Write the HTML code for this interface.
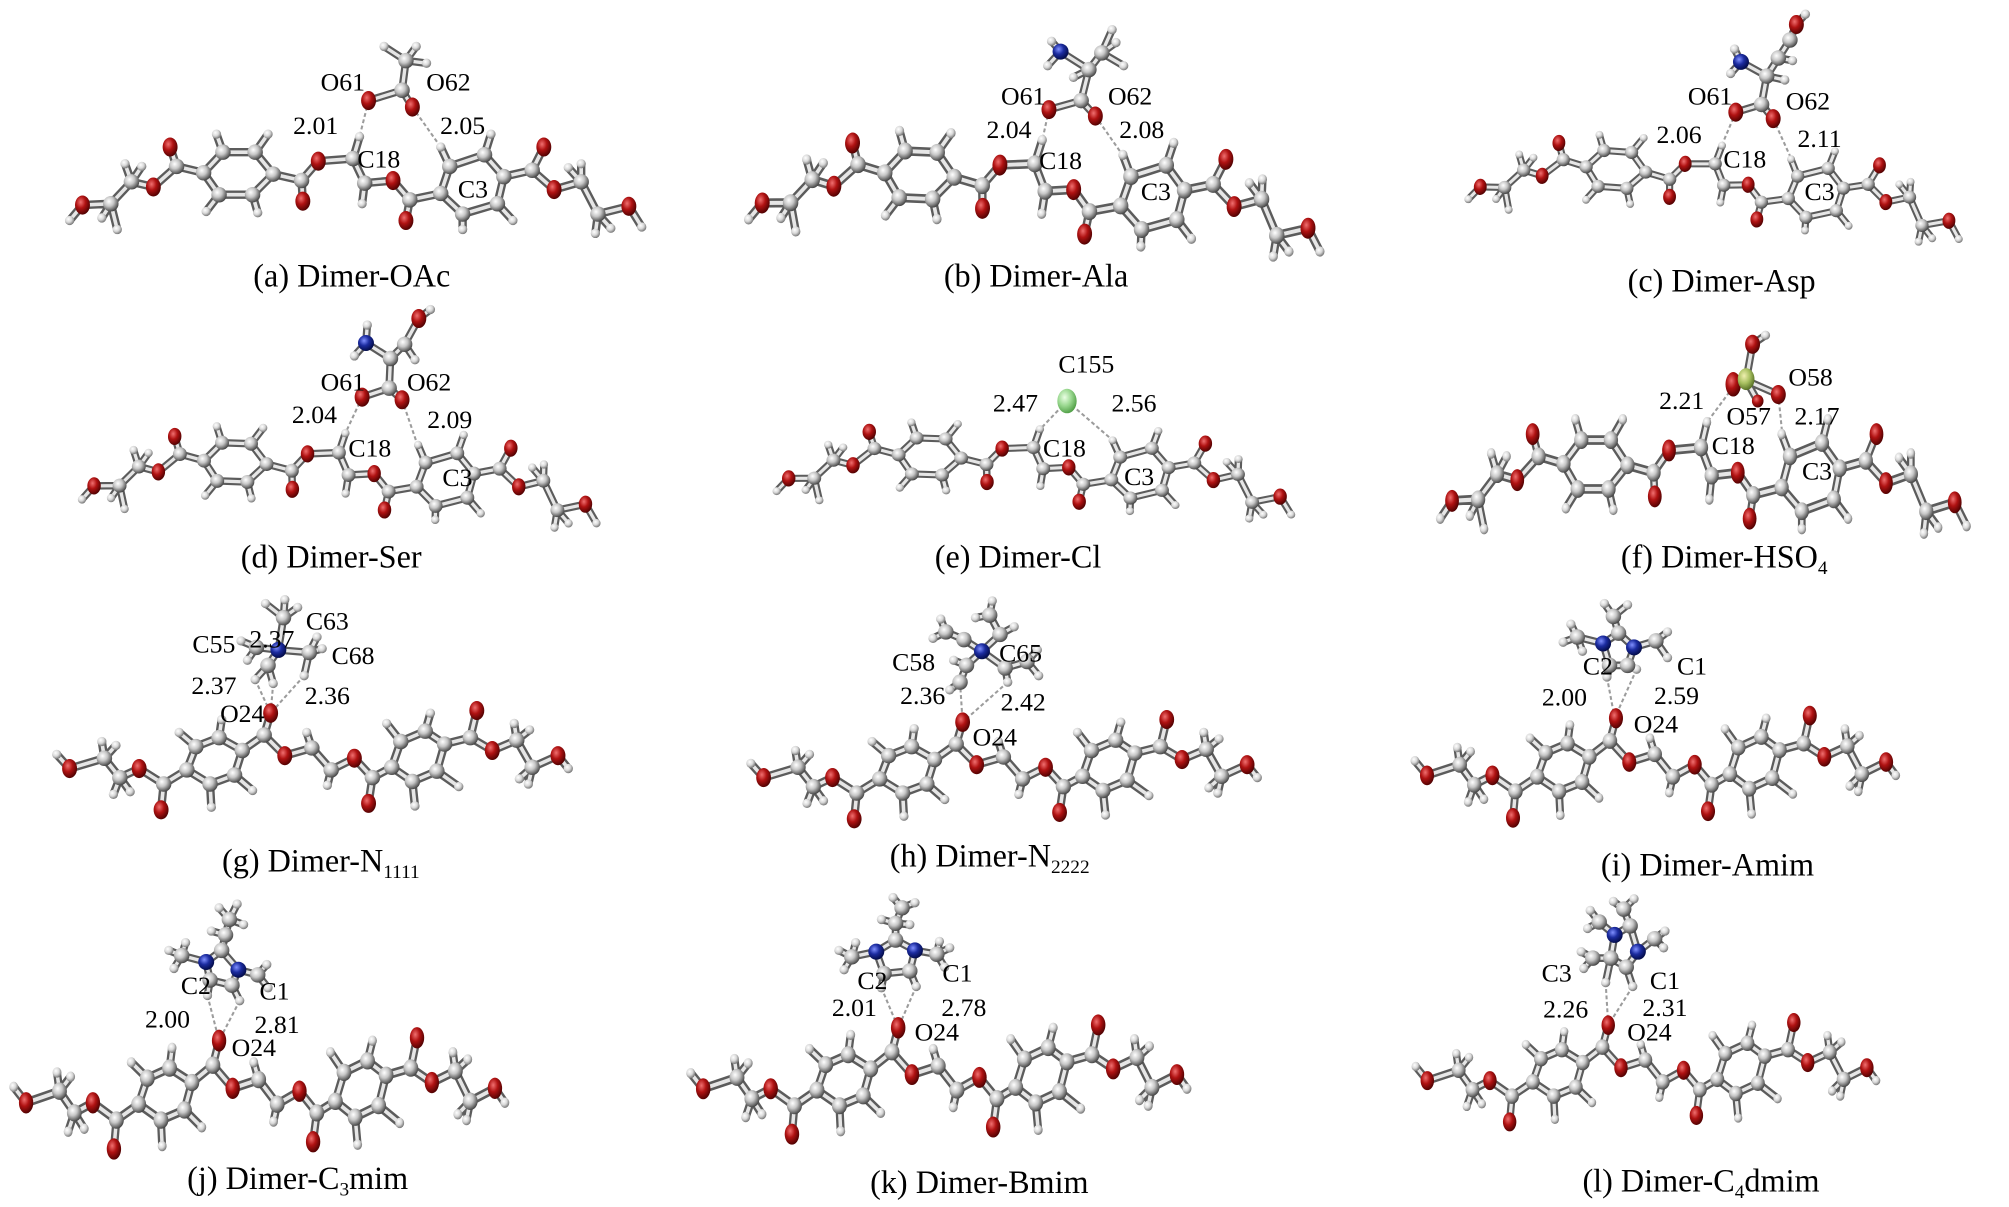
<!DOCTYPE html>
<html><head><meta charset="utf-8"><style>
html,body{margin:0;padding:0;background:#fff;}
svg{display:block;}
text{font-family:"Liberation Serif","Times New Roman",serif;fill:#000;}
.lb{font-size:20px;text-anchor:middle;}
.cp{font-size:25px;text-anchor:middle;}
</style></head><body>
<svg width="2009" height="1207" viewBox="0 0 1559 936" preserveAspectRatio="none" xmlns="http://www.w3.org/2000/svg" xmlns:xlink="http://www.w3.org/1999/xlink">
<defs>
<radialGradient id="gC" cx="0.38" cy="0.35" r="0.7"><stop offset="0" stop-color="#ffffff"/><stop offset="0.45" stop-color="#c6c6c6"/><stop offset="1" stop-color="#3a3a3a"/></radialGradient>
<radialGradient id="gH" cx="0.38" cy="0.35" r="0.7"><stop offset="0" stop-color="#ffffff"/><stop offset="0.5" stop-color="#d8d8d8"/><stop offset="1" stop-color="#6a6a6a"/></radialGradient>
<radialGradient id="gO" cx="0.38" cy="0.35" r="0.7"><stop offset="0" stop-color="#f07070"/><stop offset="0.45" stop-color="#b01212"/><stop offset="1" stop-color="#480000"/></radialGradient>
<radialGradient id="gN" cx="0.38" cy="0.35" r="0.7"><stop offset="0" stop-color="#8090ff"/><stop offset="0.45" stop-color="#1c2ca0"/><stop offset="1" stop-color="#000840"/></radialGradient>
<radialGradient id="gCl" cx="0.38" cy="0.35" r="0.7"><stop offset="0" stop-color="#eaffe4"/><stop offset="0.5" stop-color="#9ad890"/><stop offset="1" stop-color="#4a9a40"/></radialGradient>
<radialGradient id="gS" cx="0.38" cy="0.35" r="0.7"><stop offset="0" stop-color="#f0f0b0"/><stop offset="0.5" stop-color="#a8c060"/><stop offset="1" stop-color="#506a20"/></radialGradient>

<path id="vb" fill="none" stroke-linecap="round" stroke-linejoin="round" d="M54,171L64,159L86,158L102,141L119,145L137,129L158,134 M137,129L132,114 M86,158L91,178 M86,158L79,169 M102,141L97,127 M102,141L110,129 M158,134L173,118L198,118L212,135L196,151L170,151Z M173,118L168,104 M198,118L208,104 M196,151L200,165 M170,151L160,164 M212,135L234,140L247,125L274,123L283,142L305,140L318,155L342,150 M234,140L235,156 M274,123L279,106 M283,142L281,158 M318,155L315,171 M342,150L349,129L376,120L391,137L386,158L359,166Z M349,129L342,114 M376,120L381,104 M386,158L398,171 M359,166L359,178 M391,137L413,132L430,147L451,141L464,166L488,160L498,176 M413,132L422,114 M451,141L451,127 M451,141L441,130 M464,166L462,181 M464,166L474,177"/>

<g id="V">
<use xlink:href="#vb" href="#vb" stroke="#5c5c5c" stroke-width="6.5"/>
<use xlink:href="#vb" href="#vb" stroke="#e6e6e6" stroke-width="2.8"/>
<g fill="url(#gH)">
<circle cx="54" cy="171" r="3.6"/><circle cx="91" cy="178" r="3.6"/><circle cx="79" cy="169" r="3.6"/><circle cx="97" cy="127" r="3.6"/><circle cx="110" cy="129" r="3.6"/><circle cx="168" cy="104" r="3.6"/><circle cx="208" cy="104" r="3.6"/><circle cx="200" cy="165" r="3.6"/><circle cx="160" cy="164" r="3.6"/><circle cx="279" cy="106" r="3.6"/><circle cx="281" cy="158" r="3.6"/><circle cx="342" cy="114" r="3.6"/><circle cx="381" cy="104" r="3.6"/><circle cx="398" cy="171" r="3.6"/><circle cx="359" cy="178" r="3.6"/><circle cx="451" cy="127" r="3.6"/><circle cx="441" cy="130" r="3.6"/><circle cx="462" cy="181" r="3.6"/><circle cx="474" cy="177" r="3.6"/><circle cx="498" cy="176" r="3.6"/>
</g>
<g fill="url(#gC)">
<circle cx="86" cy="158" r="6"/><circle cx="102" cy="141" r="6"/><circle cx="137" cy="129" r="6"/><circle cx="158" cy="134" r="6"/><circle cx="173" cy="118" r="6"/><circle cx="198" cy="118" r="6"/><circle cx="212" cy="135" r="6"/><circle cx="196" cy="151" r="6"/><circle cx="170" cy="151" r="6"/><circle cx="234" cy="140" r="6"/><circle cx="274" cy="123" r="6"/><circle cx="283" cy="142" r="6"/><circle cx="318" cy="155" r="6"/><circle cx="342" cy="150" r="6"/><circle cx="349" cy="129" r="6"/><circle cx="376" cy="120" r="6"/><circle cx="391" cy="137" r="6"/><circle cx="386" cy="158" r="6"/><circle cx="359" cy="166" r="6"/><circle cx="413" cy="132" r="6"/><circle cx="451" cy="141" r="6"/><circle cx="464" cy="166" r="6"/>
</g>
<g fill="url(#gO)">
<ellipse cx="64" cy="159" rx="5.8" ry="7.4"/><ellipse cx="119" cy="145" rx="5.8" ry="7.4"/><ellipse cx="132" cy="114" rx="5.8" ry="7.4"/><ellipse cx="235" cy="156" rx="5.8" ry="7.4"/><ellipse cx="247" cy="125" rx="5.8" ry="7.4"/><ellipse cx="305" cy="140" rx="5.8" ry="7.4"/><ellipse cx="315" cy="171" rx="5.8" ry="7.4"/><ellipse cx="422" cy="114" rx="5.8" ry="7.4"/><ellipse cx="430" cy="147" rx="5.8" ry="7.4"/><ellipse cx="488" cy="160" rx="5.8" ry="7.4"/>
</g>
</g>

<path id="lb" fill="none" stroke-linecap="round" stroke-linejoin="round" d="M44,585L54,596L81,588L93,603L108,596L127,608L145,597 M81,588L79,575 M81,588L90,578 M93,603L88,616 M93,603L101,614 M127,608L125,628 M145,597L152,579L170,572L188,582L182,601L163,608Z M152,579L139,568 M170,572L172,558 M182,601L196,613 M163,608L164,626 M188,582L205,570L221,586L242,580L257,597L275,588L289,603L304,595 M205,570L210,553 M242,580L238,568 M257,597L254,609 M289,603L286,623 M304,595L311,575L330,567L345,577L339,598L320,606Z M311,575L300,561 M330,567L334,553 M339,598L356,610 M320,606L322,625 M345,577L365,572L382,582L401,574L413,595L433,586L441,596 M365,572L370,551 M401,574L399,561 M401,574L411,566 M413,595L410,608 M413,595L403,604"/>

<g id="L">
<use xlink:href="#lb" href="#lb" stroke="#5c5c5c" stroke-width="6.5"/>
<use xlink:href="#lb" href="#lb" stroke="#e6e6e6" stroke-width="2.8"/>
<g fill="url(#gH)">
<circle cx="44" cy="585" r="3.6"/><circle cx="79" cy="575" r="3.6"/><circle cx="90" cy="578" r="3.6"/><circle cx="88" cy="616" r="3.6"/><circle cx="101" cy="614" r="3.6"/><circle cx="139" cy="568" r="3.6"/><circle cx="172" cy="558" r="3.6"/><circle cx="196" cy="613" r="3.6"/><circle cx="164" cy="626" r="3.6"/><circle cx="238" cy="568" r="3.6"/><circle cx="254" cy="609" r="3.6"/><circle cx="300" cy="561" r="3.6"/><circle cx="334" cy="553" r="3.6"/><circle cx="356" cy="610" r="3.6"/><circle cx="322" cy="625" r="3.6"/><circle cx="399" cy="561" r="3.6"/><circle cx="411" cy="566" r="3.6"/><circle cx="410" cy="608" r="3.6"/><circle cx="403" cy="604" r="3.6"/><circle cx="441" cy="596" r="3.6"/>
</g>
<g fill="url(#gC)">
<circle cx="81" cy="588" r="6"/><circle cx="93" cy="603" r="6"/><circle cx="127" cy="608" r="6"/><circle cx="145" cy="597" r="6"/><circle cx="152" cy="579" r="6"/><circle cx="170" cy="572" r="6"/><circle cx="188" cy="582" r="6"/><circle cx="182" cy="601" r="6"/><circle cx="163" cy="608" r="6"/><circle cx="205" cy="570" r="6"/><circle cx="242" cy="580" r="6"/><circle cx="257" cy="597" r="6"/><circle cx="289" cy="603" r="6"/><circle cx="304" cy="595" r="6"/><circle cx="311" cy="575" r="6"/><circle cx="330" cy="567" r="6"/><circle cx="345" cy="577" r="6"/><circle cx="339" cy="598" r="6"/><circle cx="320" cy="606" r="6"/><circle cx="365" cy="572" r="6"/><circle cx="401" cy="574" r="6"/><circle cx="413" cy="595" r="6"/>
</g>
<g fill="url(#gO)">
<ellipse cx="54" cy="596" rx="5.8" ry="7.4"/><ellipse cx="108" cy="596" rx="5.8" ry="7.4"/><ellipse cx="125" cy="628" rx="5.8" ry="7.4"/><ellipse cx="210" cy="553" rx="5.8" ry="7.6"/><ellipse cx="221" cy="586" rx="5.8" ry="7.4"/><ellipse cx="275" cy="588" rx="5.8" ry="7.4"/><ellipse cx="286" cy="623" rx="5.8" ry="7.4"/><ellipse cx="370" cy="551" rx="5.8" ry="7.4"/><ellipse cx="382" cy="582" rx="5.8" ry="7.4"/><ellipse cx="433" cy="586" rx="5.8" ry="7.4"/>
</g>
</g>

<!-- ion bond paths -->
<path id="ia" fill="none" stroke-linecap="round" d="M286,78L312,70L320,83 M312,70L315,47 M315,47L298,36 M315,47L323,36 M315,47L331,49"/>
<path id="ib" fill="none" stroke-linecap="round" d="M814,85L839,78L850,90 M839,78L845,54 M845,54L823,40 M823,40L816,32 M823,40L813,51 M845,54L855,41 M855,41L863,23 M855,41L872,51 M855,41L866,33 M845,54L833,60"/>
<path id="ic" fill="none" stroke-linecap="round" d="M1347,87L1367,81L1376,92 M1367,81L1371,59 M1371,59L1351,48 M1351,48L1346,38 M1351,48L1343,57 M1371,59L1380,45 M1380,45L1389,31 M1389,31L1394,19 M1394,19L1401,11 M1371,59L1385,62 M1380,45L1391,47"/>
<path id="id" fill="none" stroke-linecap="round" d="M281,308L302,301L312,310 M302,301L303,278 M303,278L284,266 M284,266L285,252 M284,266L275,276 M303,278L314,267 M314,267L325,247 M325,247L334,240 M314,267L322,279"/>
<path id="if" fill="none" stroke-linecap="round" d="M1355,295L1345,298 M1355,295L1380,306 M1355,295L1360,267 M1360,267L1370,260 M1355,295L1364,311"/>
<path id="ig" fill="none" stroke-linecap="round" d="M216,504L199,502 M216,504L220,479 M216,504L240,506 M216,504L208,516 M220,479L206,468 M220,479L231,471 M220,479L221,465 M199,502L187,497 M199,502L192,512 M240,506L250,503 M240,506L246,494 M240,506L236,524 M208,516L198,527 M208,516L212,530"/>
<path id="ih" fill="none" stroke-linecap="round" d="M762,505L748,496 M748,496L734,490 M762,505L776,492 M776,492L768,477 M762,505L750,516 M750,516L745,529 M762,505L780,518 M780,518L797,513 M734,490L724,495 M734,490L730,480 M768,477L757,479 M768,477L770,466 M776,492L787,486 M797,513L806,524 M797,513L805,504 M745,529L737,535 M750,516L740,512 M780,518L782,529"/>
<path id="ii" fill="none" stroke-linecap="round" stroke-linejoin="round" d="M1244,499L1256,491L1268,502L1263,516L1249,516Z M1244,499L1224,494 M1224,494L1213,498 M1224,494L1219,484 M1224,494L1228,505 M1256,491L1252,478 M1252,478L1245,468 M1252,478L1263,469 M1268,502L1285,497 M1285,497L1294,490 M1285,497L1294,510 M1249,516L1247,525 M1263,516L1270,519"/>
<path id="ij" fill="none" stroke-linecap="round" stroke-linejoin="round" d="M160,746L172,737L185,752L180,764L163,760Z M160,746L141,741 M141,741L131,737 M141,741L135,751 M141,741L144,731 M172,737L175,725 M175,725L178,713 M178,713L170,704 M178,713L189,717 M175,725L164,722 M178,713L184,701 M185,752L200,756 M200,756L208,766 M200,756L207,748 M163,760L161,772 M180,764L186,776"/>
<path id="ik" fill="none" stroke-linecap="round" stroke-linejoin="round" d="M680,738L695,729L710,737L706,753L686,755Z M680,738L661,742 M661,742L651,737 M661,742L655,752 M661,742L664,731 M695,729L695,716 M695,716L700,704 M700,704L693,696 M700,704L710,700 M695,716L684,713 M695,716L706,717 M710,737L727,740 M727,740L737,735 M727,740L733,750 M727,740L729,730 M686,755L684,766 M706,753L711,765"/>
<path id="il" fill="none" stroke-linecap="round" stroke-linejoin="round" d="M1253,725L1265,718L1271,738L1262,750L1250,743Z M1253,725L1241,715 M1241,715L1234,706 M1241,715L1232,720 M1265,718L1260,705 M1260,705L1252,699 M1260,705L1268,697 M1271,738L1284,728 M1284,728L1292,722 M1284,728L1291,735 M1250,743L1236,743 M1236,743L1227,738 M1236,743L1229,751 M1250,743L1246,762 M1262,750L1267,765"/>
</defs>

<rect width="1559" height="936" fill="#fff"/>

<!-- dashed H-bonds -->
<g stroke="#9c9c9c" stroke-width="1.6" stroke-dasharray="3 2" fill="none">
<path d="M286,78L279,106 M320,83L342,114"/>
<path d="M814,85L809,108 M850,90L871,120"/>
<path d="M1347,87L1336,113 M1376,92L1390,123"/>
<path d="M281,308L268,336 M312,310L324,345"/>
<path d="M828,311L807,333 M828,311L863,341"/>
<path d="M1345,300L1325,327 M1380,306L1383,336"/>
<path d="M198,527L210,553 M212,530L210,553 M236,524L210,553"/>
<path d="M745,529L747,560 M782,529L747,560"/>
<path d="M1247,525L1253,557 M1270,519L1253,557"/>
<path d="M161,772L170,807 M186,776L170,807"/>
<path d="M684,766L697,797 M711,765L697,797"/>
<path d="M1246,762L1248,795 M1267,765L1248,795"/>
</g>

<!-- main molecules -->
<use xlink:href="#V" href="#V"/>
<use xlink:href="#V" href="#V" transform="translate(803,127) rotate(2.5) scale(1,1.1) translate(-274,-123)"/>
<use xlink:href="#V" href="#V" transform="translate(1331,127) rotate(4) scale(0.86,0.85) translate(-274,-123)"/>
<use xlink:href="#V" href="#V" transform="translate(263,351) rotate(2) scale(0.9,0.9) translate(-274,-123)"/>
<use xlink:href="#V" href="#V" transform="translate(802,347) rotate(2) scale(0.9,0.85) translate(-274,-123)"/>
<use xlink:href="#V" href="#V" transform="translate(1320,347) scale(0.92,1.15) translate(-274,-123)"/>

<use xlink:href="#L" href="#L"/>
<use xlink:href="#L" href="#L" transform="translate(747,560) scale(0.99,1) translate(-210,-553)"/>
<use xlink:href="#L" href="#L" transform="translate(1254,557) scale(0.94,1.03) translate(-210,-553)"/>
<use xlink:href="#L" href="#L" transform="translate(170,807) scale(0.96,1.12) translate(-210,-553)"/>
<use xlink:href="#L" href="#L" transform="translate(697,797) scale(0.97,1.1) translate(-210,-553)"/>
<use xlink:href="#L" href="#L" transform="translate(1248,795) scale(0.9,1.0) translate(-210,-553)"/>

<!-- ion bonds -->
<g stroke="#5c5c5c" stroke-width="6">
<use xlink:href="#ia" href="#ia"/><use xlink:href="#ib" href="#ib"/><use xlink:href="#ic" href="#ic"/><use xlink:href="#id" href="#id"/><use xlink:href="#if" href="#if"/><use xlink:href="#ig" href="#ig"/><use xlink:href="#ih" href="#ih"/><use xlink:href="#ii" href="#ii"/><use xlink:href="#ij" href="#ij"/><use xlink:href="#ik" href="#ik"/><use xlink:href="#il" href="#il"/>
</g>
<g stroke="#e6e6e6" stroke-width="2.6">
<use xlink:href="#ia" href="#ia"/><use xlink:href="#ib" href="#ib"/><use xlink:href="#ic" href="#ic"/><use xlink:href="#id" href="#id"/><use xlink:href="#if" href="#if"/><use xlink:href="#ig" href="#ig"/><use xlink:href="#ih" href="#ih"/><use xlink:href="#ii" href="#ii"/><use xlink:href="#ij" href="#ij"/><use xlink:href="#ik" href="#ik"/><use xlink:href="#il" href="#il"/>
</g>

<!-- ion atoms: H -->
<g fill="url(#gH)">
<circle cx="298" cy="36" r="3.6"/><circle cx="323" cy="36" r="3.6"/><circle cx="331" cy="49" r="3.6"/>
<circle cx="816" cy="32" r="3.6"/><circle cx="813" cy="51" r="3.6"/><circle cx="863" cy="23" r="3.6"/><circle cx="872" cy="51" r="3.6"/><circle cx="866" cy="33" r="3.6"/><circle cx="833" cy="60" r="3.6"/>
<circle cx="1346" cy="38" r="3.6"/><circle cx="1343" cy="57" r="3.6"/><circle cx="1401" cy="11" r="3.6"/><circle cx="1385" cy="62" r="3.6"/><circle cx="1391" cy="47" r="3.6"/>
<circle cx="285" cy="252" r="3.6"/><circle cx="275" cy="276" r="3.6"/><circle cx="334" cy="240" r="3.6"/><circle cx="322" cy="279" r="3.6"/>
<circle cx="1370" cy="260" r="3.6"/>
<circle cx="206" cy="468" r="3.6"/><circle cx="231" cy="471" r="3.6"/><circle cx="221" cy="465" r="3.6"/><circle cx="187" cy="497" r="3.6"/><circle cx="192" cy="512" r="3.6"/><circle cx="250" cy="503" r="3.6"/><circle cx="246" cy="494" r="3.6"/><circle cx="236" cy="524" r="3.6"/><circle cx="198" cy="527" r="3.6"/><circle cx="212" cy="530" r="3.6"/>
<circle cx="724" cy="495" r="3.6"/><circle cx="730" cy="480" r="3.6"/><circle cx="757" cy="479" r="3.6"/><circle cx="770" cy="466" r="3.6"/><circle cx="787" cy="486" r="3.6"/><circle cx="806" cy="524" r="3.6"/><circle cx="805" cy="504" r="3.6"/><circle cx="737" cy="535" r="3.6"/><circle cx="740" cy="512" r="3.6"/><circle cx="782" cy="529" r="3.6"/>
<circle cx="1213" cy="498" r="3.6"/><circle cx="1219" cy="484" r="3.6"/><circle cx="1228" cy="505" r="3.6"/><circle cx="1245" cy="468" r="3.6"/><circle cx="1263" cy="469" r="3.6"/><circle cx="1294" cy="490" r="3.6"/><circle cx="1294" cy="510" r="3.6"/><circle cx="1247" cy="525" r="3.6"/><circle cx="1270" cy="519" r="3.6"/>
<circle cx="131" cy="737" r="3.6"/><circle cx="135" cy="751" r="3.6"/><circle cx="144" cy="731" r="3.6"/><circle cx="170" cy="704" r="3.6"/><circle cx="189" cy="717" r="3.6"/><circle cx="164" cy="722" r="3.6"/><circle cx="184" cy="701" r="3.6"/><circle cx="208" cy="766" r="3.6"/><circle cx="207" cy="748" r="3.6"/><circle cx="161" cy="772" r="3.6"/><circle cx="186" cy="776" r="3.6"/>
<circle cx="651" cy="737" r="3.6"/><circle cx="655" cy="752" r="3.6"/><circle cx="664" cy="731" r="3.6"/><circle cx="693" cy="696" r="3.6"/><circle cx="710" cy="700" r="3.6"/><circle cx="684" cy="713" r="3.6"/><circle cx="706" cy="717" r="3.6"/><circle cx="737" cy="735" r="3.6"/><circle cx="733" cy="750" r="3.6"/><circle cx="729" cy="730" r="3.6"/><circle cx="684" cy="766" r="3.6"/><circle cx="711" cy="765" r="3.6"/>
<circle cx="1234" cy="706" r="3.6"/><circle cx="1232" cy="720" r="3.6"/><circle cx="1252" cy="699" r="3.6"/><circle cx="1268" cy="697" r="3.6"/><circle cx="1292" cy="722" r="3.6"/><circle cx="1291" cy="735" r="3.6"/><circle cx="1227" cy="738" r="3.6"/><circle cx="1229" cy="751" r="3.6"/><circle cx="1246" cy="762" r="3.6"/><circle cx="1267" cy="765" r="3.6"/>
</g>
<!-- ion atoms: C -->
<g fill="url(#gC)">
<circle cx="312" cy="70" r="6"/><circle cx="315" cy="47" r="6"/>
<circle cx="839" cy="78" r="6"/><circle cx="845" cy="54" r="6"/><circle cx="855" cy="41" r="6"/>
<circle cx="1367" cy="81" r="6"/><circle cx="1371" cy="59" r="6"/><circle cx="1380" cy="45" r="6"/><circle cx="1389" cy="31" r="6"/>
<circle cx="302" cy="301" r="6"/><circle cx="303" cy="278" r="6"/><circle cx="314" cy="267" r="6"/>
<circle cx="199" cy="502" r="6"/><circle cx="220" cy="479" r="6"/><circle cx="240" cy="506" r="6"/><circle cx="208" cy="516" r="6"/>
<circle cx="748" cy="496" r="6"/><circle cx="734" cy="490" r="6"/><circle cx="776" cy="492" r="6"/><circle cx="768" cy="477" r="6"/><circle cx="750" cy="516" r="6"/><circle cx="745" cy="529" r="6"/><circle cx="780" cy="518" r="6"/><circle cx="797" cy="513" r="6"/>
<circle cx="1256" cy="491" r="6"/><circle cx="1263" cy="516" r="6"/><circle cx="1249" cy="516" r="6"/><circle cx="1224" cy="494" r="6"/><circle cx="1252" cy="478" r="6"/><circle cx="1285" cy="497" r="6"/>
<circle cx="172" cy="737" r="6"/><circle cx="180" cy="764" r="6"/><circle cx="163" cy="760" r="6"/><circle cx="141" cy="741" r="6"/><circle cx="175" cy="725" r="6"/><circle cx="178" cy="713" r="6"/><circle cx="200" cy="756" r="6"/>
<circle cx="695" cy="729" r="6"/><circle cx="706" cy="753" r="6"/><circle cx="686" cy="755" r="6"/><circle cx="661" cy="742" r="6"/><circle cx="695" cy="716" r="6"/><circle cx="700" cy="704" r="6"/><circle cx="727" cy="740" r="6"/>
<circle cx="1265" cy="718" r="6"/><circle cx="1262" cy="750" r="6"/><circle cx="1250" cy="743" r="6"/><circle cx="1241" cy="715" r="6"/><circle cx="1260" cy="705" r="6"/><circle cx="1284" cy="728" r="6"/><circle cx="1236" cy="743" r="6"/>
</g>
<!-- ion atoms: O -->
<g fill="url(#gO)">
<ellipse cx="286" cy="78" rx="5.8" ry="7.4"/><ellipse cx="320" cy="83" rx="5.8" ry="7.4"/>
<ellipse cx="814" cy="85" rx="5.8" ry="7.4"/><ellipse cx="850" cy="90" rx="5.8" ry="7.4"/>
<ellipse cx="1347" cy="87" rx="5.8" ry="7.4"/><ellipse cx="1376" cy="92" rx="5.8" ry="7.4"/><ellipse cx="1394" cy="19" rx="5.8" ry="7.4"/>
<ellipse cx="281" cy="308" rx="5.8" ry="7.4"/><ellipse cx="312" cy="310" rx="5.8" ry="7.4"/><ellipse cx="325" cy="247" rx="5.8" ry="7.4"/>
<ellipse cx="1345" cy="298" rx="6" ry="9.5"/><ellipse cx="1380" cy="306" rx="5.8" ry="7.4"/><ellipse cx="1360" cy="267" rx="5.8" ry="7.4"/><ellipse cx="1364" cy="311" rx="4.5" ry="5"/>
</g>
<!-- N atoms -->
<g fill="url(#gN)">
<circle cx="823" cy="40" r="6.2"/><circle cx="1351" cy="48" r="6.2"/><circle cx="284" cy="266" r="6.2"/>
<circle cx="216" cy="504" r="6.2"/><circle cx="762" cy="505" r="6.2"/>
<circle cx="1244" cy="499" r="6.2"/><circle cx="1268" cy="502" r="6.2"/>
<circle cx="160" cy="746" r="6.2"/><circle cx="185" cy="752" r="6.2"/>
<circle cx="680" cy="738" r="6.2"/><circle cx="710" cy="737" r="6.2"/>
<circle cx="1253" cy="725" r="6.2"/><circle cx="1271" cy="738" r="6.2"/>
</g>
<ellipse cx="828" cy="311" rx="7.5" ry="9.5" fill="url(#gCl)"/>
<ellipse cx="1355" cy="294" rx="6.5" ry="8.5" fill="url(#gS)"/>

<!-- atom labels -->
<g class="lb">
<text class="lb" x="266" y="70">O61</text><text class="lb" x="348" y="70">O62</text><text class="lb" x="245" y="104">2.01</text><text class="lb" x="359" y="104">2.05</text><text class="lb" x="294" y="130">C18</text><text class="lb" x="367" y="153">C3</text>
<text class="lb" x="794" y="81">O61</text><text class="lb" x="877" y="81">O62</text><text class="lb" x="783" y="107">2.04</text><text class="lb" x="886" y="107">2.08</text><text class="lb" x="823" y="131">C18</text><text class="lb" x="897" y="155">C3</text>
<text class="lb" x="1327" y="81">O61</text><text class="lb" x="1403" y="85">O62</text><text class="lb" x="1303" y="111">2.06</text><text class="lb" x="1412" y="114">2.11</text><text class="lb" x="1354" y="130">C18</text><text class="lb" x="1412" y="155">C3</text>
<text class="lb" x="266" y="303">O61</text><text class="lb" x="333" y="303">O62</text><text class="lb" x="244" y="328">2.04</text><text class="lb" x="349" y="332">2.09</text><text class="lb" x="287" y="354">C18</text><text class="lb" x="355" y="377">C3</text>
<text class="lb" x="843" y="289">C155</text><text class="lb" x="788" y="319">2.47</text><text class="lb" x="880" y="319">2.56</text><text class="lb" x="826" y="354">C18</text><text class="lb" x="884" y="376">C3</text>
<text class="lb" x="1405" y="299">O58</text><text class="lb" x="1305" y="317">2.21</text><text class="lb" x="1357" y="329">O57</text><text class="lb" x="1410" y="329">2.17</text><text class="lb" x="1345" y="352">C18</text><text class="lb" x="1410" y="372">C3</text>
<text class="lb" x="254" y="488">C63</text><text class="lb" x="166" y="506">C55</text><text class="lb" x="211" y="502">2.37</text><text class="lb" x="274" y="515">C68</text><text class="lb" x="166" y="538">2.37</text><text class="lb" x="254" y="546">2.36</text><text class="lb" x="188" y="560">O24</text>
<text class="lb" x="709" y="520">C58</text><text class="lb" x="792" y="513">C65</text><text class="lb" x="716" y="546">2.36</text><text class="lb" x="794" y="551">2.42</text><text class="lb" x="772" y="578">O24</text>
<text class="lb" x="1240" y="523">C2</text><text class="lb" x="1313" y="523">C1</text><text class="lb" x="1214" y="547">2.00</text><text class="lb" x="1301" y="546">2.59</text><text class="lb" x="1285" y="568">O24</text>
<text class="lb" x="152" y="771">C2</text><text class="lb" x="213" y="775">C1</text><text class="lb" x="130" y="797">2.00</text><text class="lb" x="215" y="801">2.81</text><text class="lb" x="197" y="819">O24</text>
<text class="lb" x="677" y="767">C2</text><text class="lb" x="743" y="761">C1</text><text class="lb" x="663" y="788">2.01</text><text class="lb" x="748" y="788">2.78</text><text class="lb" x="727" y="807">O24</text>
<text class="lb" x="1208" y="761">C3</text><text class="lb" x="1292" y="767">C1</text><text class="lb" x="1215" y="789">2.26</text><text class="lb" x="1292" y="788">2.31</text><text class="lb" x="1280" y="807">O24</text>
</g>

<!-- captions -->
<text class="cp" x="273" y="222">(a) Dimer-OAc</text>
<text class="cp" x="804" y="222">(b) Dimer-Ala</text>
<text class="cp" x="1336" y="226">(c) Dimer-Asp</text>
<text class="cp" x="257" y="440">(d) Dimer-Ser</text>
<text class="cp" x="790" y="440">(e) Dimer-Cl</text>
<text class="cp" x="1338" y="440">(f) Dimer-HSO<tspan font-size="15" dy="5">4</tspan></text>
<text class="cp" x="249" y="676">(g) Dimer-N<tspan font-size="15" dy="5">1111</tspan></text>
<text class="cp" x="768" y="672">(h) Dimer-N<tspan font-size="15" dy="5">2222</tspan></text>
<text class="cp" x="1325" y="679">(i) Dimer-Amim</text>
<text class="cp" x="231" y="922">(j) Dimer-C<tspan font-size="15" dy="5">3</tspan><tspan dy="-5">mim</tspan></text>
<text class="cp" x="760" y="925">(k) Dimer-Bmim</text>
<text class="cp" x="1320" y="924">(l) Dimer-C<tspan font-size="15" dy="5">4</tspan><tspan dy="-5">dmim</tspan></text>
</svg>
</body></html>
